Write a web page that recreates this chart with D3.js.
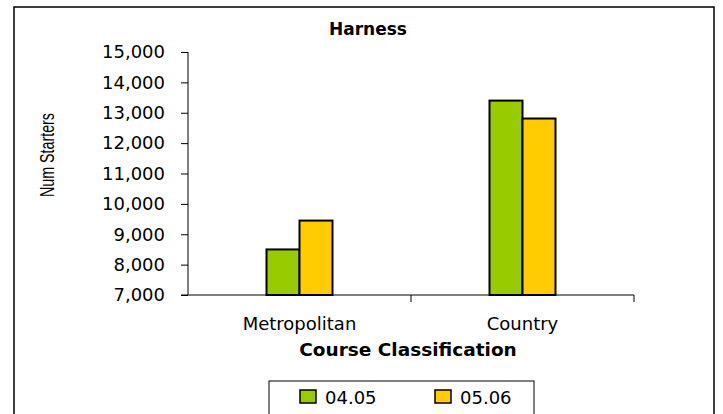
<!DOCTYPE html>
<html>
<head>
<meta charset="utf-8">
<script src="https://cdn.jsdelivr.net/npm/d3@7"></script>
<style>
  body { margin: 0; background: #fff; }
  svg text { font-family: "DejaVu Sans", Verdana, sans-serif; fill: #000; }
</style>
</head>
<body>
<div id="chart"></div>
<script>
const categories = ["Metropolitan", "Country"];
const seasons = ["04.05", "05.06"];
const values0405 = [8500, 13400];
const values0506 = [9450, 12810];
const yTicks = [7000, 8000, 9000, 10000, 11000, 12000, 13000, 14000, 15000];
const colors = {"04.05": "#99cc00", "05.06": "#ffcc00"};

const W = 723, H = 414;
const plot = {left: 188, right: 634, top: 52, bottom: 295};

const svg = d3.select("#chart").append("svg")
    .attr("width", W).attr("height", H);

// outer frame
svg.append("rect")
    .attr("x", 14).attr("y", 7)
    .attr("width", 700).attr("height", 420)
    .attr("fill", "#fff").attr("stroke", "#000").attr("stroke-width", 1.5);

const x = d3.scaleBand().domain(categories).range([plot.left, plot.right]);
const inner = d3.scaleBand().domain(seasons).range([0, 66]);
const y = d3.scaleLinear().domain([7000, 15000]).range([plot.bottom, plot.top]);

const rows = categories.map((c, i) => ({cat: c, vals: [values0405[i], values0506[i]]}));

// bars
const groups = svg.selectAll("g.cat").data(rows).enter().append("g")
    .attr("transform", d => `translate(${x(d.cat) + x.bandwidth() / 2 - 33},0)`);

groups.selectAll("rect")
    .data(d => d.vals.map((v, j) => ({season: seasons[j], value: v})))
    .enter().append("rect")
    .attr("x", d => inner(d.season))
    .attr("y", d => y(d.value))
    .attr("width", inner.bandwidth())
    .attr("height", d => y(7000) - y(d.value))
    .attr("fill", d => colors[d.season])
    .attr("stroke", "#000").attr("stroke-width", 2);

// y axis
const yAxis = svg.append("g")
    .attr("transform", `translate(${plot.left},0)`)
    .call(d3.axisLeft(y).tickValues(yTicks).tickSize(7).tickPadding(16)
        .tickFormat(d3.format(",")));
yAxis.attr("font-family", null);
yAxis.selectAll("text").style("font-size", "18px");
yAxis.select(".domain").attr("d", `M0,${plot.top}V${plot.bottom}`);

// x axis
const xAxis = svg.append("g")
    .attr("transform", `translate(0,${plot.bottom})`);
xAxis.append("line")
    .attr("x1", plot.left - 7).attr("x2", plot.right)
    .attr("stroke", "#000");
xAxis.selectAll("line.tick")
    .data(categories.map(c => x(c) + x.bandwidth()))
    .enter().append("line")
    .attr("x1", d => d).attr("x2", d => d)
    .attr("y1", 0).attr("y2", 7)
    .attr("stroke", "#000");
xAxis.selectAll("text")
    .data(categories).enter().append("text")
    .attr("x", d => x(d) + x.bandwidth() / 2)
    .attr("y", 35)
    .attr("text-anchor", "middle")
    .style("font-size", "18px")
    .text(d => d);

// titles
svg.append("text")
    .attr("x", 368).attr("y", 35)
    .attr("text-anchor", "middle")
    .style("font-size", "17px").style("font-weight", "bold")
    .text("Harness");

svg.append("text")
    .attr("x", 408).attr("y", 356)
    .attr("text-anchor", "middle")
    .style("font-size", "18.5px").style("font-weight", "bold")
    .text("Course Classification");

svg.append("text")
    .attr("transform", "translate(47,155) rotate(-90)")
    .attr("text-anchor", "middle")
    .attr("dominant-baseline", "central")
    .attr("textLength", 84)
    .attr("lengthAdjust", "spacingAndGlyphs")
    .style("font-family", "'Liberation Sans Narrow', 'Liberation Sans', sans-serif")
    .style("font-size", "20px")
    .text("Num Starters");

// legend
const legend = svg.append("g");
legend.append("rect")
    .attr("x", 269).attr("y", 381)
    .attr("width", 265).attr("height", 50)
    .attr("fill", "#fff").attr("stroke", "#000");

const items = legend.selectAll("g.item").data(seasons).enter().append("g")
    .attr("transform", (d, i) => `translate(${300 + i * 135},390)`);
items.append("rect")
    .attr("width", 16).attr("height", 13)
    .attr("fill", d => colors[d])
    .attr("stroke", "#000").attr("stroke-width", 1.5);
items.append("text")
    .attr("x", 25).attr("y", 14)
    .style("font-size", "18px")
    .text(d => d);
</script>
</body>
</html>
